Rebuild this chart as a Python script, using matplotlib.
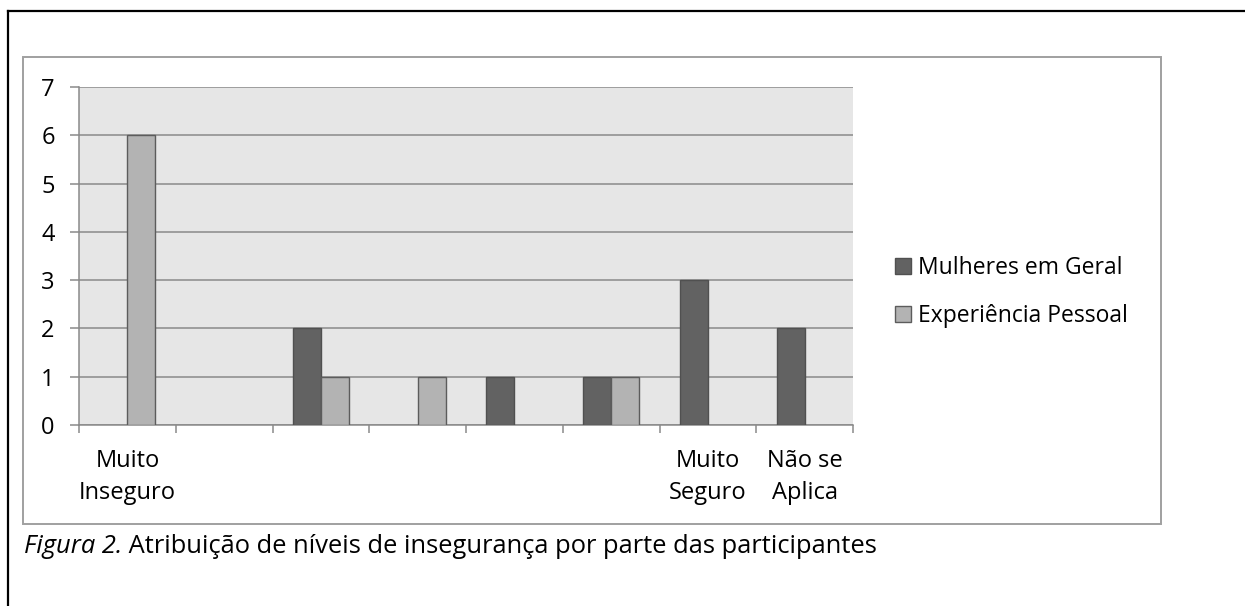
import numpy as np
import matplotlib.pyplot as plt
from matplotlib.patches import Rectangle, Patch
from matplotlib.lines import Line2D

plt.rcParams['font.family'] = ['Open Sans', 'DejaVu Sans']

categories = ['Muito\nInseguro', '', '', '', '', '', 'Muito\nSeguro', 'Não se\nAplica']
mulheres_geral = [0, 0, 2, 0, 1, 1, 3, 2]
experiencia_pessoal = [6, 0, 1, 1, 0, 1, 0, 0]
series_names = ['Mulheres em Geral', 'Experiência Pessoal']
y_ticks = [0, 1, 2, 3, 4, 5, 6, 7]

W, H = 1245, 606
FS = 17
grid_c = '#8a8a8a'
dark, dark_edge = '#626262', '#505050'
light, light_edge = '#b3b3b3', '#5c5c5c'

fig = plt.figure(figsize=(W / 100, H / 100), dpi=100)

def px(x0, y0, x1, y1):
    # pixel box (top-left origin) -> figure fraction rect
    return [x0 / W, 1 - y1 / H, (x1 - x0) / W, (y1 - y0) / H]

# outer page border (top and left only) and grey chart frame
fig.add_artist(Line2D([8 / W, 1], [1 - 11 / H, 1 - 11 / H], color='black', lw=1.6))
fig.add_artist(Line2D([8 / W, 8 / W], [0, 1 - 11 / H], color='black', lw=1.6))
fx, fy, fw, fh = px(23, 57, 1161, 524)
fig.add_artist(Rectangle((fx, fy), fw, fh, transform=fig.transFigure,
                         fill=False, edgecolor='#a0a0a0', lw=1.4))

ax = fig.add_axes(px(79, 87, 853, 425))
ax.set_facecolor('#e6e6e6')

x = np.arange(len(categories))
bw = 0.29
b1 = ax.bar(x - bw / 2, mulheres_geral, bw, color=dark, edgecolor=dark_edge,
            lw=1.0, zorder=3)
b2 = ax.bar(x + bw / 2, experiencia_pessoal, bw, color=light, edgecolor=light_edge,
            lw=1.0, zorder=3)
# empty bars leave no trace on the axis
for bars in (b1, b2):
    for r in bars:
        if r.get_height() == 0:
            r.set_visible(False)

ax.set_xlim(-0.5, len(categories) - 0.5)
ax.set_ylim(0, 7)
ax.set_yticks(y_ticks)
ax.set_yticklabels([str(v) for v in y_ticks], fontsize=FS)
ax.yaxis.grid(True, color=grid_c, lw=1.1, zorder=1)
ax.tick_params(axis='y', length=6.5, width=1.1, color=grid_c, pad=11)

# boundary ticks (major) and centred category labels (minor)
ax.set_xticks(np.arange(-0.5, len(categories), 1.0))
ax.set_xticklabels([])
ax.tick_params(axis='x', which='major', length=5.5, width=1.1, color=grid_c)
ax.set_xticks(x, minor=True)
ax.set_xticklabels(categories, minor=True, fontsize=FS, linespacing=1.45)
ax.tick_params(axis='x', which='minor', length=0, pad=17)

for s in ['top', 'right']:
    ax.spines[s].set_visible(False)
for s in ['left', 'bottom']:
    ax.spines[s].set_color(grid_c)
    ax.spines[s].set_linewidth(1.1)

handles = [Patch(facecolor=dark, edgecolor=dark_edge, lw=1.0, label=series_names[0]),
           Patch(facecolor=light, edgecolor=light_edge, lw=1.0, label=series_names[1])]
ax.legend(handles=handles, loc='center left',
          bbox_to_anchor=(895 / W, 1 - 292 / H), bbox_transform=fig.transFigure,
          frameon=False, fontsize=16.5, handlelength=0.7, handleheight=0.7,
          handletextpad=0.3, labelspacing=1.05, borderpad=0, borderaxespad=0)

t1 = fig.text(24 / W, 1 - 553 / H, 'Figura 2.', fontsize=18.4, style='italic',
              va='baseline', ha='left')
ax.annotate(' Atribuição de níveis de insegurança por parte das participantes',
            xy=(1, 0), xycoords=t1, va='bottom', ha='left', fontsize=18.4,
            annotation_clip=False)

fig.savefig('out.png', dpi=100)
